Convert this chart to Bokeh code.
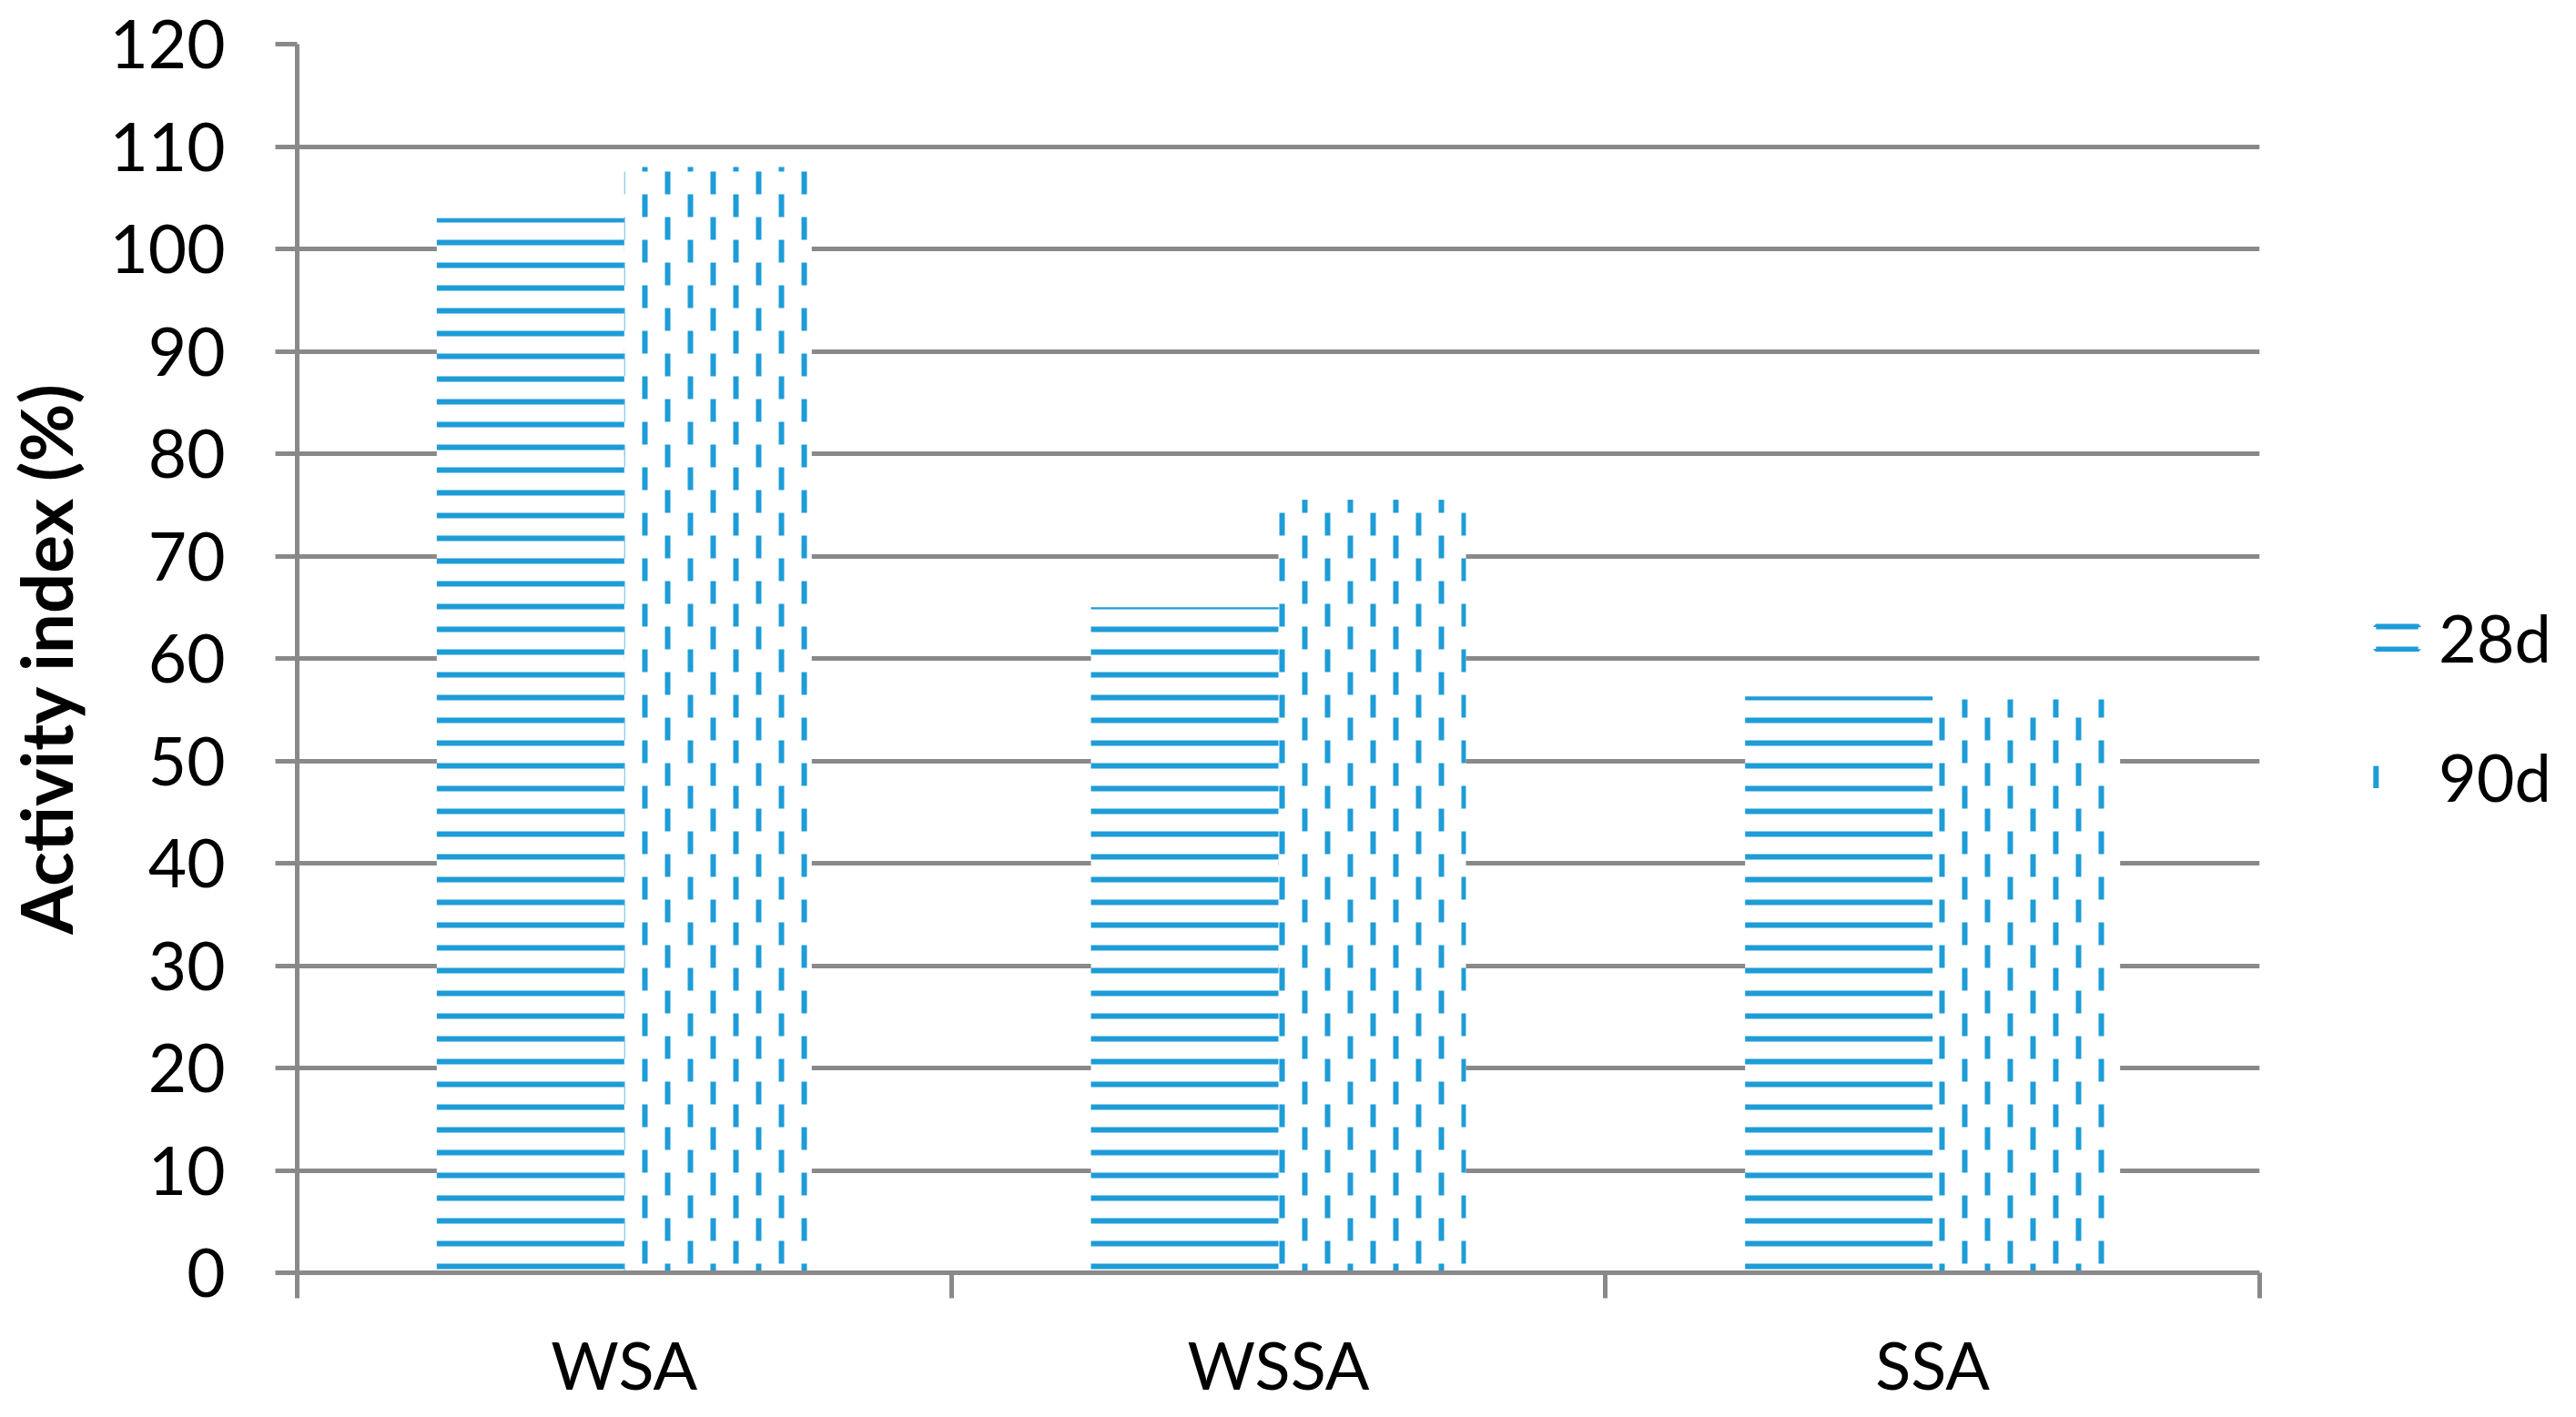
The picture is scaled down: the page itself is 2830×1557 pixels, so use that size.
from bokeh.plotting import figure
from bokeh.models import Range1d, FixedTicker, Legend, LegendItem, ColumnDataSource
from bokeh.embed import file_html
from bokeh.resources import INLINE

# ---- data ----
categories = ["WSA", "WSSA", "SSA"]
series_names = ["28d", "90d"]
d28 = [103.0, 65.0, 56.3]
d90 = [108.0, 75.5, 56.0]
y_ticks = [0, 10, 20, 30, 40, 50, 60, 70, 80, 90, 100, 110, 120]
y_title = "Activity index (%)"

# ---- style ----
BLUE = "#1E9CD7"
GRAY = "#898989"
FONT = "Lato"
FS = "73px"
BAR_W = 0.2866
FRAME_W, FRAME_H = 2156, 1350
Y_MAX = 120
n = len(categories)
px_x = FRAME_W / n          # pixels per x unit
px_y = FRAME_H / Y_MAX      # pixels per y unit

# pattern geometry (pixels, anchored to the plot frame)
STRIPE_PERIOD, STRIPE_THICK, STRIPE_OFF = 25, 6, 4
COL_PERIOD, COL_W, COL_OFF = 25, 6, 4
DASH_LEN, DASH_PERIOD = 25, 50

centers = [i + 0.5 for i in range(n)]
x28 = [c - BAR_W / 2 for c in centers]
x90 = [c + BAR_W / 2 for c in centers]

# horizontal stripes of the 28d bars
s28 = dict(left=[], right=[], bottom=[], top=[])
for xc, top in zip(x28, d28):
    k = 0
    while True:
        b = (STRIPE_OFF + k * STRIPE_PERIOD) / px_y
        if b >= top:
            break
        s28["left"].append(xc - BAR_W / 2)
        s28["right"].append(xc + BAR_W / 2)
        s28["bottom"].append(b)
        s28["top"].append(min(b + STRIPE_THICK / px_y, top))
        k += 1

# staggered vertical dashes of the 90d bars
s90 = dict(left=[], right=[], bottom=[], top=[])
for xc, top in zip(x90, d90):
    lpx, rpx = (xc - BAR_W / 2) * px_x, (xc + BAR_W / 2) * px_x
    m = int((lpx - COL_OFF) // COL_PERIOD) - 1
    while COL_OFF + m * COL_PERIOD < rpx:
        cpx = COL_OFF + m * COL_PERIOD
        x0, x1 = max(cpx, lpx), min(cpx + COL_W, rpx)
        if x1 > x0:
            phase = 10 if m % 2 == 1 else 35
            y = phase - DASH_PERIOD
            while y / px_y < top:
                b = max(0.0, y / px_y)
                t = min((y + DASH_LEN) / px_y, top)
                if t > b:
                    s90["left"].append(x0 / px_x)
                    s90["right"].append(x1 / px_x)
                    s90["bottom"].append(b)
                    s90["top"].append(t)
                y += DASH_PERIOD
        m += 1

p = figure(frame_width=FRAME_W, frame_height=FRAME_H, output_backend="svg", toolbar_location=None,
           x_range=Range1d(0, n), y_range=Range1d(0, Y_MAX),
           min_border_left=322, min_border_right=336, min_border_top=48, min_border_bottom=0)
p.outline_line_color = None
p.background_fill_color = "white"
p.border_fill_color = "white"

# white bar bodies (hide the grid behind them)
p.vbar(x=x28, top=d28, bottom=0, width=BAR_W, fill_color="white", line_color=None)
p.vbar(x=x90, top=d90, bottom=0, width=BAR_W, fill_color="white", line_color=None)
# pattern fills
p.quad(source=ColumnDataSource(s28), left="left", right="right", bottom="bottom", top="top",
       fill_color=BLUE, line_color=None)
p.quad(source=ColumnDataSource(s90), left="left", right="right", bottom="bottom", top="top",
       fill_color=BLUE, line_color=None)

# legend swatches (hidden renderers whose legend glyph mimics the pattern)
leg28 = p.vbar(x=x28, top=d28, bottom=0, width=BAR_W, fill_color=None,
               line_color=BLUE, line_width=6, line_dash="47 24", visible=False)
leg90 = p.vbar(x=x90, top=d90, bottom=0, width=BAR_W, fill_color=None,
               line_color=BLUE, line_width=6, line_dash="0 118 25", visible=False)

# x axis
xa = p.xaxis[0]
xa.ticker = FixedTicker(ticks=centers, minor_ticks=list(range(n + 1)))
xa.major_label_overrides = {c: lab for c, lab in zip(centers, categories)}
xa.axis_line_color = GRAY
xa.axis_line_width = 5
xa.major_tick_out = 0
xa.major_tick_in = 0
xa.minor_tick_out = 28
xa.minor_tick_in = 0
xa.minor_tick_line_color = GRAY
xa.minor_tick_line_width = 5
xa.major_label_standoff = 29
xa.major_label_text_font = FONT
xa.major_label_text_font_size = "72px"
xa.major_label_text_color = "black"
p.xgrid.visible = False

# y axis
ya = p.yaxis[0]
ya.ticker = FixedTicker(ticks=y_ticks)
ya.axis_line_color = GRAY
ya.axis_line_width = 5
ya.major_tick_out = 24
ya.major_tick_in = 0
ya.major_tick_line_color = GRAY
ya.major_tick_line_width = 5
ya.minor_tick_line_color = None
ya.major_label_standoff = 55
ya.major_label_text_font = FONT
ya.major_label_text_font_size = FS
ya.major_label_text_color = "black"
ya.axis_label = y_title
ya.axis_label_text_font = FONT
ya.axis_label_text_font_style = "bold"
ya.axis_label_text_font_size = "78px"
ya.axis_label_text_color = "black"
ya.axis_label_standoff = 20

p.ygrid.ticker = FixedTicker(ticks=y_ticks)
p.ygrid.grid_line_color = GRAY
p.ygrid.grid_line_width = 5

legend = Legend(items=[LegendItem(label=series_names[0], renderers=[leg28]),
                       LegendItem(label=series_names[1], renderers=[leg90])],
                location=(122, 490), orientation="vertical",
                glyph_width=58, glyph_height=31, label_standoff=17,
                label_height=110, spacing=43, padding=0, margin=0,
                border_line_color=None, background_fill_alpha=0,
                inactive_fill_alpha=0,
                label_text_font=FONT, label_text_font_size="72px", label_text_color="black")
p.add_layout(legend, "right")

open("out.html", "w").write(file_html(p, INLINE))
